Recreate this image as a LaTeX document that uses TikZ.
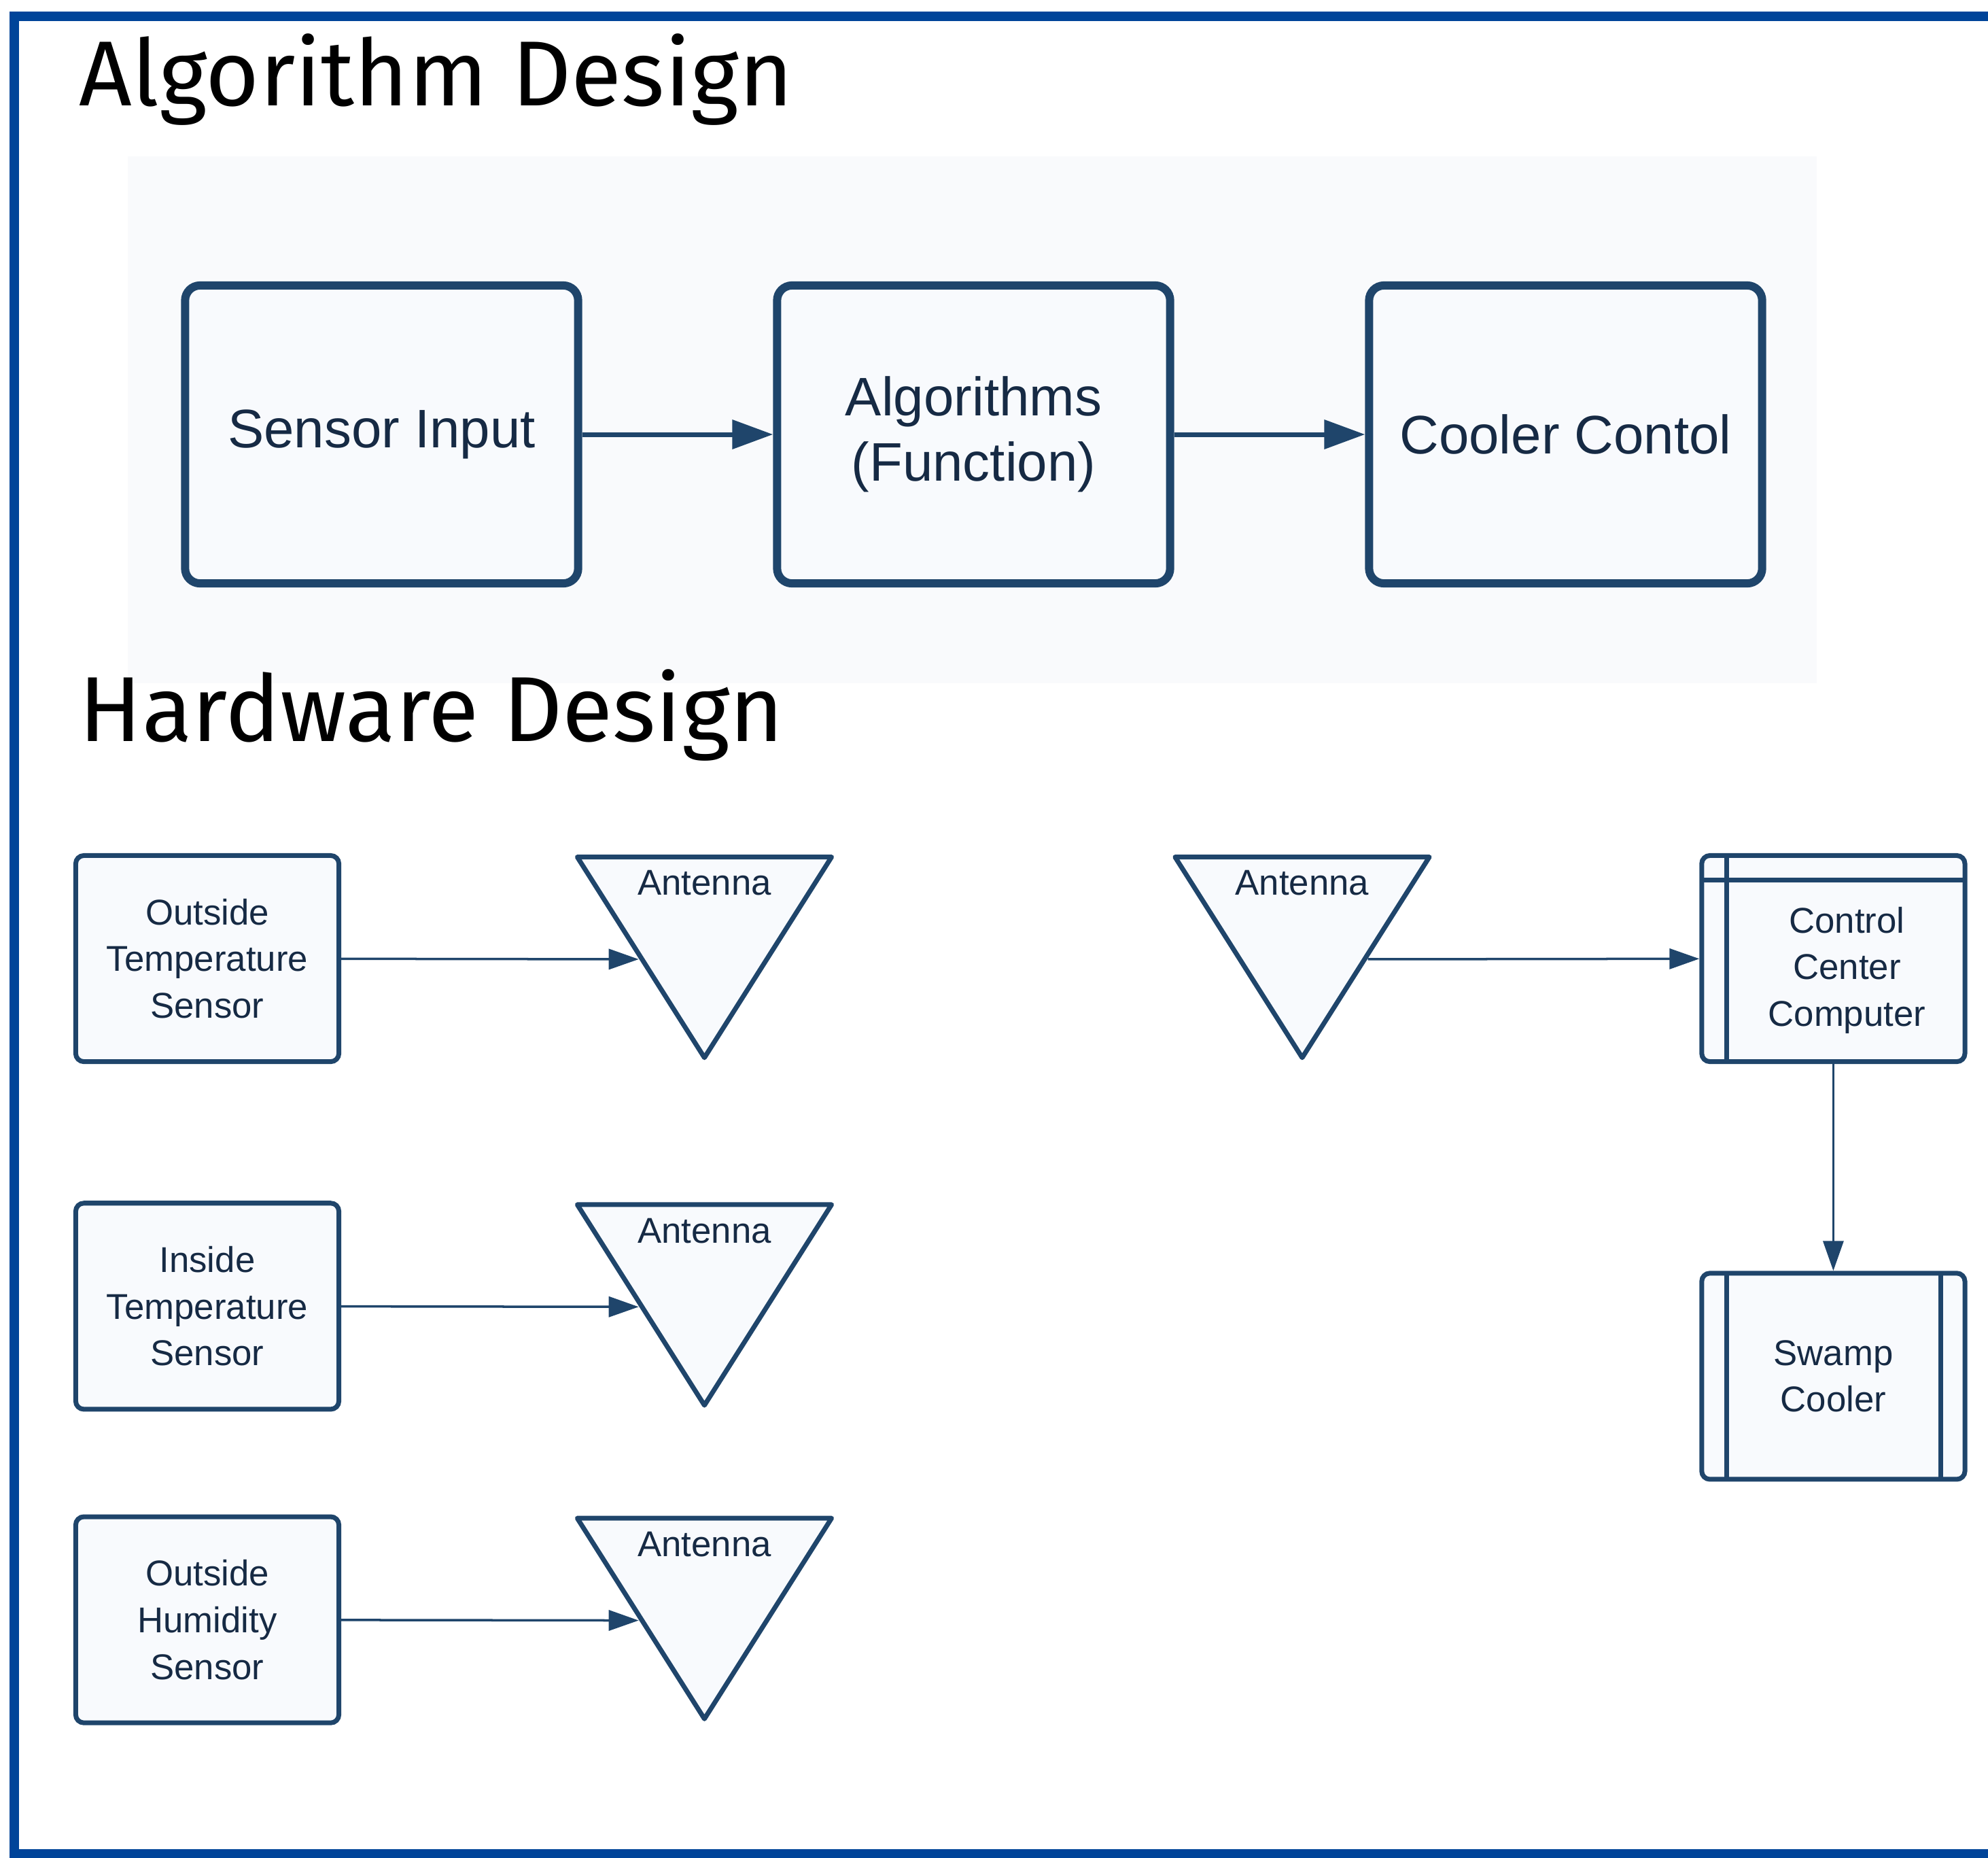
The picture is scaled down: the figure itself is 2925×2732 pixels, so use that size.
\documentclass[tikz,border=0pt]{standalone}
\usepackage{fontspec}
\setmainfont{Liberation Sans}
\newfontfamily\titlefont{Fira Sans}
\usetikzlibrary{arrows.meta,shapes.geometric}

\definecolor{framecol}{RGB}{0,68,153}
\definecolor{linecol}{RGB}{31,69,107}
\definecolor{textcol}{RGB}{22,42,68}
\definecolor{boxfill}{RGB}{248,250,253}
\definecolor{panelfill}{RGB}{249,250,252}

\begin{document}
\begin{tikzpicture}[x=0.01cm,y=-0.01cm,node distance=8.705cm,
    title node/.style={anchor=base west,inner sep=0pt,font=\titlefont\fontsize{38.6}{40}\selectfont},
    algo node/.style={draw=linecol,fill=boxfill,line width=0.12cm,rounded corners=0.22cm,minimum width=5.78cm,minimum height=4.38cm,align=center,text=textcol,font=\fontsize{22.7}{27.3}\selectfont},
    hw node/.style={draw=linecol,fill=boxfill,line width=0.07cm,rounded corners=0.12cm,minimum width=3.87cm,minimum height=3.03cm,align=center,text=textcol,font=\fontsize{15}{19.5}\selectfont},
    hw text/.style={inner sep=0pt,align=center,text=textcol,font=\fontsize{15}{19.5}\selectfont},
    antenna node/.style={isosceles triangle,isosceles triangle stretches,shape border rotate=270,draw=linecol,fill=boxfill,line width=0.07cm,line join=round,minimum width=3.74cm,minimum height=2.95cm,inner sep=0pt},
    antenna label/.style={anchor=base,inner sep=0pt,text=textcol,font=\fontsize{15}{18}\selectfont},
    storage node/.style={hw node,path picture={
        \draw[linecol,line width=0.07cm] ([xshift=0.37cm]path picture bounding box.north west) -- ([xshift=0.37cm]path picture bounding box.south west);
        \draw[linecol,line width=0.07cm] ([yshift=-0.36cm]path picture bounding box.north west) -- ([yshift=-0.36cm]path picture bounding box.north east);}},
    process node/.style={hw node,path picture={
        \draw[linecol,line width=0.07cm] ([xshift=0.37cm]path picture bounding box.north west) -- ([xshift=0.37cm]path picture bounding box.south west);
        \draw[linecol,line width=0.07cm] ([xshift=-0.36cm]path picture bounding box.north east) -- ([xshift=-0.36cm]path picture bounding box.south east);}},
    algo arrow/.style={-{Triangle[length=0.6cm,width=0.42cm]},color=linecol,line width=0.07cm},
    hw arrow/.style={-{Triangle[length=0.44cm,width=0.3cm]},color=linecol,line width=0.035cm},
    frame line/.style={draw=framecol,line width=0.14cm}]

    \useasboundingbox (0,0) rectangle (2925,2732);

    % blue frame, open on the right
    \draw[frame line] (2945,24) -- (21,24) -- (21,2727) -- (2945,2727);

    % algorithm design
    \node[title node] (algo title) at (116,155) {Algorithm Design};
    \fill[panelfill] (188,230) rectangle (2673,1005);

    \node[algo node] (si) at (561.5,639) {Sensor Input};
    \node[algo node] (af) [right of = si] {Algorithms\\(Function)};
    \node[algo node] (cc) [right of = af] {Cooler Contol};

    \path[algo arrow]
    (si) edge (af)
    (af) edge (cc)
    ;

    % hardware design
    \node[title node] (hw title) at (116,1090) {Hardware Design};

    \node[hw node] (ots) at (305,1410) {Outside\\Temperature\\Sensor};
    \node[hw node] (its) [below of = ots, node distance=5.11cm] {Inside\\Temperature\\Sensor};
    \node[hw node] (ohs) [below of = its, node distance=4.61cm] {Outside\\Humidity\\Sensor};

    % triangle centre sits on its incircle, so lift it
    \node[antenna node] (ant1) [right of = ots, node distance=7.31cm, yshift=0.465cm] {};
    \node[antenna node] (ant2) [right of = its, node distance=7.31cm, yshift=0.465cm] {};
    \node[antenna node] (ant3) [right of = ohs, node distance=7.31cm, yshift=0.465cm] {};
    \node[antenna node] (ant4) [right of = ant1, node distance=8.79cm] {};

    \node[antenna label] (ant1 label) at ([yshift=0.465cm]ant1.center) {Antenna};
    \node[antenna label] (ant2 label) at ([yshift=0.465cm]ant2.center) {Antenna};
    \node[antenna label] (ant3 label) at ([yshift=0.465cm]ant3.center) {Antenna};
    \node[antenna label] (ant4 label) at ([yshift=0.465cm]ant4.center) {Antenna};

    \node[storage node] (ccc) [right of = ant4, node distance=7.81cm, yshift=-0.465cm] {};
    \node[hw text] (ccc label) at ([xshift=0.2cm,yshift=-0.17cm]ccc.center) {Control\\Center\\Computer};
    \node[process node] (sc) [below of = ccc, node distance=6.14cm] {Swamp\\Cooler};

    \path[hw arrow]
    (ots) edge (ant1.right side)
    (its) edge (ant2.right side)
    (ohs) edge (ant3.right side)
    (ant4.left side) edge (ccc)
    (ccc) edge (sc)
    ;
\end{tikzpicture}
\end{document}
